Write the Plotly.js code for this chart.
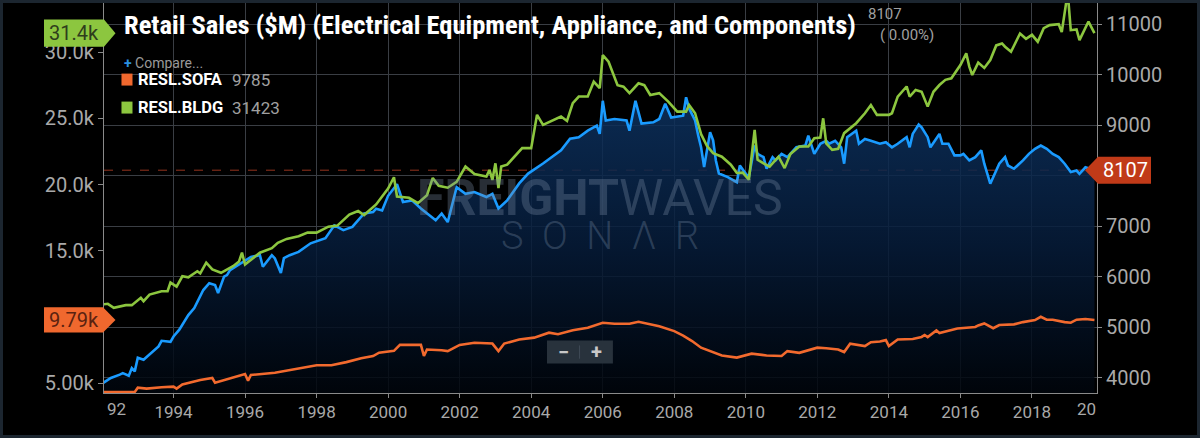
<!DOCTYPE html>
<html>
<head>
<meta charset="utf-8">
<script src="https://cdn.plot.ly/plotly-3.0.1.min.js"></script>
<style>
html,body{margin:0;padding:0;background:#1c2630;width:1200px;height:438px;overflow:hidden;}
#chart{position:absolute;left:3px;top:3px;width:1194px;height:432px;background:#000;}
</style>
</head>
<body>
<div id="chart"></div>
<script>
// ---------- DATA ----------
const blueName = "RESL";
const blueDates = ['1992-01','1992-04','1992-07','1992-08','1992-10','1992-11','1992-12','1993-01','1993-03','1993-05','1993-08','1993-09','1993-12','1994-01','1994-03','1994-06','1994-08','1994-11','1995-01','1995-03','1995-04','1995-06','1995-07','1995-08','1995-12','1996-03','1996-06','1996-07','1996-10','1996-11','1997-01','1997-02','1997-04','1997-07','1997-11','1998-04','1998-07','1998-10','1999-01','1999-05','1999-08','1999-09','1999-11','2000-01','2000-04','2000-06','2000-09','2000-12','2001-05','2001-07','2001-09','2001-10','2001-12','2002-03','2002-06','2002-10','2002-12','2003-02','2003-05','2003-09','2003-12','2004-05','2004-08','2004-11','2005-02','2005-05','2005-08','2005-11','2005-12','2006-01','2006-02','2006-05','2006-09','2006-10','2006-12','2007-02','2007-06','2007-08','2007-10','2007-12','2008-04','2008-05','2008-06','2008-08','2008-09','2008-10','2008-11','2009-01','2009-02','2009-03','2009-04','2009-07','2009-10','2009-11','2010-01','2010-02','2010-04','2010-05','2010-07','2010-08','2010-10','2010-11','2011-01','2011-03','2011-06','2011-09','2011-10','2011-12','2012-02','2012-04','2012-05','2012-07','2012-09','2012-10','2012-11','2013-02','2013-03','2013-05','2013-07','2013-10','2013-12','2014-02','2014-04','2014-07','2014-08','2014-09','2014-11','2014-12','2015-02','2015-03','2015-06','2015-07','2015-09','2015-11','2016-01','2016-02','2016-04','2016-06','2016-08','2016-09','2016-11','2017-01','2017-02','2017-04','2017-05','2017-07','2017-10','2017-12','2018-02','2018-04','2018-06','2018-08','2018-10','2018-12','2019-02','2019-04','2019-05','2019-07','2019-10'];
const blueVals = [3880,3995,4060,4090,4040,4190,4125,4395,4355,4455,4620,4730,4710,4815,4950,5240,5380,5735,5870,5835,5675,6000,6030,6130,6270,6390,6425,6195,6425,6360,6070,6365,6425,6490,6660,6760,7015,6920,6985,7250,7280,7345,7310,7600,7830,7477,7510,7350,7115,7250,7080,7310,7770,7640,7675,7575,7640,7350,7510,7845,8040,8240,8365,8500,8730,8760,8890,8990,8825,9480,9090,9120,9090,8890,9480,9030,9055,9120,9420,9150,9185,9550,9325,9090,8800,8560,8170,8860,8700,8300,8040,7970,7870,8200,8035,7970,8595,8430,8365,8135,8365,8300,8430,8365,8560,8595,8790,8430,8630,8690,8630,8690,8560,8235,8760,8890,8630,8725,8690,8630,8660,8560,8630,8760,8560,8825,9010,8955,8760,8560,8825,8630,8630,8400,8400,8430,8300,8365,8500,8235,7840,8100,8235,8365,8200,8135,8300,8430,8530,8595,8530,8430,8365,8235,8070,8100,8035,8165,8107];

const greenName = "RESL.BLDG";
const greenDates = ['1992-01','1992-03','1992-05','1992-09','1992-11','1993-02','1993-03','1993-05','1993-09','1993-11','1993-12','1994-02','1994-04','1994-06','1994-09','1994-10','1994-12','1995-02','1995-05','1995-09','1995-11','1995-12','1996-01','1996-06','1996-10','1996-12','1997-03','1997-07','1997-10','1998-01','1998-05','1998-08','1998-12','1999-03','1999-05','1999-09','2000-01','2000-03','2000-04','2000-08','2000-11','2001-02','2001-04','2001-06','2001-09','2001-12','2002-03','2002-06','2002-10','2002-11','2002-12','2003-01','2003-02','2003-03','2003-05','2003-08','2003-10','2004-01','2004-03','2004-05','2004-09','2004-11','2005-01','2005-03','2005-05','2005-08','2005-10','2005-12','2006-01','2006-03','2006-06','2006-08','2006-10','2007-01','2007-03','2007-05','2007-08','2007-11','2008-02','2008-05','2008-06','2008-08','2008-10','2008-12','2009-02','2009-05','2009-08','2009-10','2009-12','2010-02','2010-04','2010-05','2010-07','2010-09','2010-12','2011-02','2011-04','2011-07','2011-10','2011-12','2012-02','2012-03','2012-04','2012-06','2012-08','2012-10','2013-02','2013-05','2013-07','2013-09','2014-01','2014-02','2014-04','2014-07','2014-08','2014-10','2014-12','2015-02','2015-04','2015-06','2015-08','2015-10','2016-01','2016-03','2016-04','2016-05','2016-07','2016-09','2016-11','2017-01','2017-03','2017-04','2017-06','2017-09','2017-11','2018-01','2018-03','2018-05','2018-07','2018-10','2018-11','2019-01','2019-02','2019-04','2019-05','2019-08','2019-10'];
const greenVals = [10950,11000,10700,10900,10900,11450,11200,11700,11950,11950,12600,12300,13080,13000,13460,13300,14100,13600,13340,13840,14200,14860,13960,14860,15200,15600,15900,16100,16370,16370,16820,16900,17730,18000,17700,18500,19700,20550,19100,19000,18600,19200,20500,19900,19760,20200,21360,20800,20600,21100,20350,21600,19740,21360,21500,22240,22750,22750,25260,24500,24900,25130,24800,26140,26640,26640,27760,27270,29770,29270,27500,27390,26900,27640,27500,26760,26900,26260,25500,25500,26000,25380,23800,22900,22370,22100,21500,20870,20900,20360,24130,21870,21600,21360,22100,21240,22300,22870,22870,23500,23550,25000,23100,22620,22700,23880,24630,25380,26000,25260,25260,25380,26640,27400,26640,27140,27000,25880,27000,27510,27900,28020,29020,29900,28900,28270,29200,28800,29400,30500,30650,30400,30020,31400,31000,31300,30780,31800,32030,32100,31500,34500,31650,31700,30900,32300,31423];

const orangeName = "RESL.SOFA";
const orangeDates = ['1992-01','1992-12','1993-01','1993-04','1993-09','1994-01','1994-02','1994-04','1994-10','1995-02','1995-03','1995-09','1996-01','1996-02','1996-03','1996-11','1997-04','1998-01','1998-06','1998-11','1999-04','1999-08','1999-10','2000-03','2000-05','2000-12','2001-01','2001-02','2001-07','2001-09','2002-01','2002-06','2002-12','2003-02','2003-04','2003-09','2004-02','2004-07','2004-10','2005-03','2005-08','2006-01','2006-05','2006-10','2007-01','2007-08','2008-01','2008-04','2008-07','2008-10','2009-05','2009-10','2010-03','2010-08','2011-01','2011-03','2011-07','2012-01','2012-04','2012-06','2012-08','2012-10','2012-12','2013-05','2013-07','2013-10','2013-12','2014-01','2014-04','2014-09','2014-12','2015-01','2015-02','2015-05','2015-06','2015-12','2016-03','2016-06','2016-07','2016-09','2016-12','2017-02','2017-07','2017-10','2018-02','2018-04','2018-06','2018-08','2018-12','2019-02','2019-04','2019-07','2019-10'];
const orangeVals = [4350,4350,4670,4600,4700,4750,4600,4920,5250,5400,5050,5430,5700,5200,5630,5800,6000,6360,6360,6600,6900,7060,7310,7450,7900,7900,7060,7550,7500,7430,7900,8060,8000,7430,8000,8310,8450,8820,8700,9000,9190,9570,9500,9500,9650,9310,8940,8600,8190,7690,7100,6940,7240,7100,7060,7430,7300,7690,7650,7600,7550,7360,7990,7810,8100,8150,8260,7810,8310,8350,8500,8650,8490,8990,8800,9140,9200,9250,9370,9520,9160,9400,9450,9620,9770,10020,9800,9800,9620,9570,9800,9850,9785];

const titleText = "Retail Sales ($M) (Electrical Equipment, Appliance, and Components)";
const xTickVals = ['1994-01-01','1996-01-01','1998-01-01','2000-01-01','2002-01-01','2004-01-01','2006-01-01','2008-01-01','2010-01-01','2012-01-01','2014-01-01','2016-01-01','2018-01-01'];
const xTickText = ['1994','1996','1998','2000','2002','2004','2006','2008','2010','2012','2014','2016','2018'];
const rightTicks = [4000,5000,6000,7000,8000,9000,10000,11000];
const leftTicks = [5000,10000,15000,20000,25000,30000];
const leftTickText = ['5.00k','10.0k','15.0k','20.0k','25.0k','30.0k'];

// ---------- HELPERS ----------
const last = a => a[a.length-1];
const fmtK = v => (v/1000).toPrecision(3) + 'k';
const blueLast = last(blueVals), greenLast = last(greenVals), orangeLast = last(orangeVals);
const FONT = 'Roboto, "Open Sans", sans-serif';
const TICKCOL = '#a9a9a9';
const GRID = '#3a3e44';
const NB = '\u00a0';

const traces = [
  {x: blueDates, y: blueVals, yaxis: 'y', type: 'scatter', mode: 'lines',
   line: {color: '#1a9bff', width: 2.6}, fill: 'tozeroy',
   fillgradient: {type: 'vertical', start: 3700, stop: 9500,
     colorscale: [[0, 'rgba(0,5,12,0.85)'], [0.5, 'rgba(6,28,58,0.85)'], [1, 'rgba(13,50,96,0.85)']]},
   hoverinfo: 'skip'},
  {x: orangeDates, y: orangeVals, yaxis: 'y2', type: 'scatter', mode: 'lines',
   line: {color: '#f26a2e', width: 2.6}, hoverinfo: 'skip'},
  {x: greenDates, y: greenVals, yaxis: 'y2', type: 'scatter', mode: 'lines',
   line: {color: '#8cc63f', width: 2.6}, hoverinfo: 'skip'}
];

const shapes = [
  {type: 'line', xref: 'paper', x0: 0, x1: 1, yref: 'y', y0: blueLast, y1: blueLast,
   line: {color: 'rgba(200,70,40,0.75)', width: 1, dash: 'dash'}, layer: 'below'},
  {type: 'path', xref: 'paper', xsizemode: 'pixel', xanchor: 0, yref: 'y2', ysizemode: 'pixel', yanchor: greenLast,
   path: 'M -60,-13.7 L 0,-13.7 L 11.5,0 L 0,13.7 L -60,13.7 Z', fillcolor: '#8cc63f', line: {width: 0}},
  {type: 'path', xref: 'paper', xsizemode: 'pixel', xanchor: 0, yref: 'y2', ysizemode: 'pixel', yanchor: orangeLast,
   path: 'M -60,-12.7 L -1,-12.7 L 11.5,0 L -1,12.7 L -60,12.7 Z', fillcolor: '#f0682e', line: {width: 0}},
  {type: 'path', xref: 'paper', xsizemode: 'pixel', xanchor: 1, yref: 'y', ysizemode: 'pixel', yanchor: blueLast,
   path: 'M -12,0 L 1,-13.5 L 54,-13.5 L 54,13.5 L 1,13.5 Z', fillcolor: '#c13a18', line: {width: 0}},
  {type: 'rect', xref: 'paper', yref: 'paper', x0: 0.4461, x1: 0.5125, y0: 0.0755, y1: 0.1344,
   fillcolor: '#28323c', line: {width: 0}},
  {type: 'line', xref: 'paper', yref: 'paper', x0: 0.4789, x1: 0.4789, y0: 0.088, y1: 0.122,
   line: {color: '#3e4a55', width: 1}},
  {type: 'rect', xref: 'paper', yref: 'paper', x0: 0.0176, x1: 0.0287, y0: 0.7883, y1: 0.8190,
   fillcolor: '#f0682e', line: {width: 0}},
  {type: 'rect', xref: 'paper', yref: 'paper', x0: 0.0176, x1: 0.0287, y0: 0.7165, y1: 0.7472,
   fillcolor: '#8cc63f', line: {width: 0}}
];

const annotations = [
  {xref: 'paper', yref: 'paper', x: 0.0186, y: 0.9440, xanchor: 'left', yanchor: 'middle', showarrow: false,
   text: '<b>' + titleText + '</b>', font: {family: '"Roboto Condensed", "Liberation Sans Narrow", Roboto, sans-serif', size: 26.5, color: '#ffffff'}},
  {xref: 'paper', yref: 'paper', x: 0.7676, y: 0.9718, xanchor: 'left', yanchor: 'middle', showarrow: false,
   text: String(blueLast), font: {family: FONT, size: 15, color: '#a0a0a0'}},
  {xref: 'paper', yref: 'paper', x: 0.7797, y: 0.9180, xanchor: 'left', yanchor: 'middle', showarrow: false,
   text: '( 0.00%)', font: {family: FONT, size: 15, color: '#a0a0a0'}},
  {xref: 'paper', yref: 'paper', x: 0.0181, y: 0.8463, xanchor: 'left', yanchor: 'middle', showarrow: false,
   text: '<span style="color:#2b90e0"><b>+</b></span> Compare...', font: {family: FONT, size: 14, color: '#9a9a9a'}},
  {xref: 'paper', yref: 'paper', x: 0.0327, y: 0.8028, xanchor: 'left', yanchor: 'middle', showarrow: false,
   text: '<b>' + orangeName + '</b>', font: {family: FONT, size: 16.5, color: '#ffffff'}},
  {xref: 'paper', yref: 'paper', x: 0.1273, y: 0.8028, xanchor: 'left', yanchor: 'middle', showarrow: false,
   text: String(orangeLast), font: {family: FONT, size: 17, color: '#a0a0a0'}},
  {xref: 'paper', yref: 'paper', x: 0.0327, y: 0.7311, xanchor: 'left', yanchor: 'middle', showarrow: false,
   text: '<b>' + greenName + '</b>', font: {family: FONT, size: 16.5, color: '#ffffff'}},
  {xref: 'paper', yref: 'paper', x: 0.1273, y: 0.7311, xanchor: 'left', yanchor: 'middle', showarrow: false,
   text: String(greenLast), font: {family: FONT, size: 17, color: '#a0a0a0'}},
  // watermark
  {xref: 'paper', yref: 'paper', x: 0.4996, y: 0.5000, xanchor: 'center', yanchor: 'middle', showarrow: false,
   text: '<b>FREIGHT</b>WAVES', font: {family: FONT, size: 50, color: 'rgba(120,140,165,0.33)'}},
  {xref: 'paper', yref: 'paper', x: 0.4996, y: 0.4026, xanchor: 'center', yanchor: 'middle', showarrow: false,
   text: ['S','O','N','Λ','R'].join(NB + NB), font: {family: FONT, size: 38, weight: 300, color: 'rgba(120,140,165,0.33)'}},
  // zoom button glyphs
  {xref: 'paper', yref: 'paper', x: 0.4625, y: 0.1050, xanchor: 'center', yanchor: 'middle', showarrow: false,
   text: '<b>−</b>', font: {family: FONT, size: 20, color: '#c8c8c8'}},
  {xref: 'paper', yref: 'paper', x: 0.4960, y: 0.1050, xanchor: 'center', yanchor: 'middle', showarrow: false,
   text: '<b>+</b>', font: {family: FONT, size: 20, color: '#c8c8c8'}},
  // value tag texts
  {xref: 'paper', x: 0, xshift: -30, xanchor: 'center', yref: 'y2', y: greenLast, yanchor: 'middle', showarrow: false,
   text: fmtK(greenLast), font: {family: FONT, size: 20, color: '#2f3d1c'}},
  {xref: 'paper', x: 0, xshift: -30, xanchor: 'center', yref: 'y2', y: orangeLast, yanchor: 'middle', showarrow: false,
   text: fmtK(orangeLast), font: {family: FONT, size: 20, color: '#5a2210'}},
  {xref: 'paper', x: 1, xshift: 28, xanchor: 'center', yref: 'y', y: blueLast, yanchor: 'middle', showarrow: false,
   text: String(blueLast), font: {family: FONT, size: 20, color: '#ffffff'}},
  // clipped edge year labels
  {xref: 'paper', yref: 'paper', x: 0, xshift: 1, y: -0.042, xanchor: 'left', yanchor: 'middle', showarrow: false,
   text: '92', font: {family: FONT, size: 17, color: TICKCOL}},
  {xref: 'paper', yref: 'paper', x: 1, xshift: 1, y: -0.042, xanchor: 'right', yanchor: 'middle', showarrow: false,
   text: '20', font: {family: FONT, size: 17, color: TICKCOL}}
];

const layout = {
  width: 1194, height: 432,
  margin: {l: 100.5, r: 100, t: 0, b: 41.5, pad: 0},
  paper_bgcolor: '#000000', plot_bgcolor: '#000000',
  showlegend: false,
  font: {family: FONT, color: TICKCOL},
  xaxis: {type: 'date', range: ['1992-01-22', '2019-10-27'],
    tickvals: xTickVals, ticktext: xTickText, tickfont: {size: 17, color: TICKCOL},
    showgrid: true, gridcolor: GRID, gridwidth: 1,
    showline: true, linecolor: '#8a8a8a', linewidth: 1,
    ticks: 'outside', ticklen: 4, tickcolor: '#8a8a8a', zeroline: false, fixedrange: true},
  yaxis: {side: 'right', range: [3697, 11416], tickvals: rightTicks,
    ticktext: rightTicks.map(String), tickfont: {size: 20, color: TICKCOL},
    showgrid: true, gridcolor: GRID, gridwidth: 1,
    showline: true, linecolor: '#8a8a8a', linewidth: 1,
    ticks: 'outside', ticklen: 4, tickcolor: '#8a8a8a', zeroline: false, fixedrange: true},
  yaxis2: {side: 'left', overlaying: 'y', range: [4270, 33700], tickvals: leftTicks, ticktext: leftTickText,
    tickfont: {size: 20, color: TICKCOL}, showgrid: false,
    showline: true, linecolor: '#8a8a8a', linewidth: 1,
    ticks: 'outside', ticklen: 5, tickcolor: '#8a8a8a', zeroline: false, fixedrange: true},
  shapes: shapes,
  annotations: annotations
};

Plotly.newPlot('chart', traces, layout, {displayModeBar: false, staticPlot: true});
</script>
</body>
</html>
